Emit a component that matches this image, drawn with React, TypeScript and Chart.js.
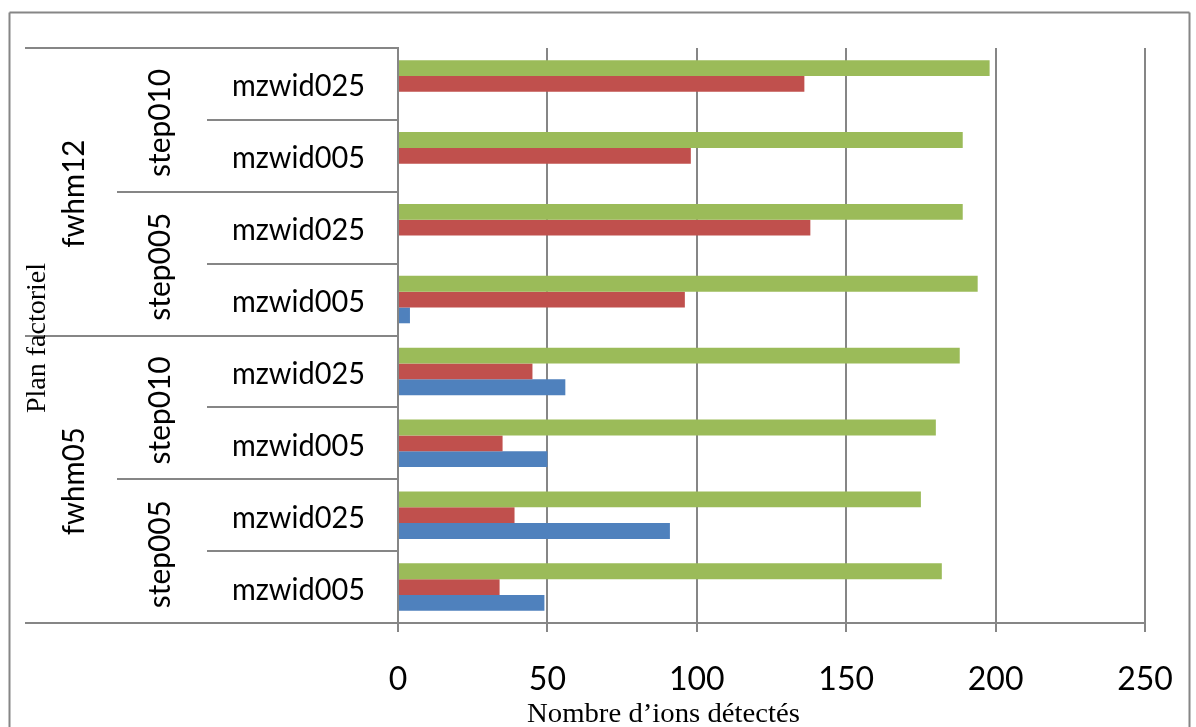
import React, { useEffect, useRef } from "react";
import { Chart, registerables } from "chart.js";

Chart.register(...registerables);

// ---- data ----
const fwhmLabels = ["fwhm12", "fwhm05"];
const stepLabels = ["step010", "step005"];
const mzwidLabels = ["mzwid025", "mzwid005"];

// categories, top to bottom
const categories: string[] = [];
fwhmLabels.forEach((f) =>
  stepLabels.forEach((s) => mzwidLabels.forEach((m) => categories.push(`${f} ${s} ${m}`)))
);

const greenValues = [198, 189, 189, 194, 188, 180, 175, 182];
const redValues = [136, 98, 138, 96, 45, 35, 39, 34];
const blueValues = [0, 0, 0, 4, 56, 50, 91, 49];

const xTicks = [0, 50, 100, 150, 200, 250];
const xAxisTitle = "Nombre d’ions détectés";
const yAxisTitle = "Plan factoriel";

const GRID = "#868686";
const SANS = "Lato, 'Open Sans', sans-serif";
const SERIF = "'Liberation Serif', 'Times New Roman', serif";

function drawFitted(
  ctx: CanvasRenderingContext2D,
  text: string,
  x: number,
  y: number,
  font: string,
  targetLen: number,
  rotate: boolean
) {
  ctx.save();
  ctx.font = font;
  ctx.fillStyle = "#000";
  ctx.textAlign = "center";
  ctx.textBaseline = "alphabetic";
  const w = ctx.measureText(text).width;
  const s = targetLen / w;
  ctx.translate(x, y);
  if (rotate) ctx.rotate(-Math.PI / 2);
  ctx.scale(s, 1);
  ctx.fillText(text, 0, 0);
  ctx.restore();
}

function line(ctx: CanvasRenderingContext2D, x1: number, y1: number, x2: number, y2: number) {
  ctx.beginPath();
  ctx.moveTo(x1, y1);
  ctx.lineTo(x2, y2);
  ctx.stroke();
}

const hierarchyPlugin = {
  id: "hierarchy",
  afterDraw(chart: any) {
    const ctx: CanvasRenderingContext2D = chart.ctx;
    const ys = chart.scales.y;
    const n = categories.length;
    const rowH = (ys.bottom - ys.top) / n;
    const top = ys.top;
    const axisX = chart.chartArea.left;
    const B = (k: number) => Math.round(top + k * rowH);

    ctx.save();
    ctx.strokeStyle = GRID;
    ctx.lineWidth = 2;
    // outer frame
    line(ctx, 9.5, 12.5, 1189.5, 12.5);
    line(ctx, 9.5, 12.5, 9.5, 727);
    line(ctx, 1189.5, 12.5, 1189.5, 727);
    // separators of the hierarchical category axis
    for (let k = 0; k <= n; k++) {
      let x0: number;
      if (k % 4 === 0) x0 = 25;
      else if (k % 2 === 0) x0 = 117;
      else x0 = 207;
      line(ctx, x0, B(k), axisX, B(k));
    }
    ctx.restore();

    // mzwid labels
    for (let i = 0; i < n; i++) {
      const cy = top + (i + 0.5) * rowH;
      drawFitted(ctx, mzwidLabels[i % 2], 298.5, cy + 12.5, `31px ${SANS}`, 133, false);
    }
    // step labels
    for (let j = 0; j < n / 2; j++) {
      const cy = top + (2 * j + 1) * rowH + 3;
      drawFitted(ctx, stepLabels[j % 2], 170, cy, `31px ${SANS}`, 108, true);
    }
    // fwhm labels
    for (let j = 0; j < n / 4; j++) {
      const cy = top + (4 * j + 2) * rowH + 2;
      drawFitted(ctx, fwhmLabels[j], 84, cy, `31px ${SANS}`, 108, true);
    }
    // axis titles
    drawFitted(ctx, yAxisTitle, 45, 338, `28px ${SERIF}`, 150, true);
    drawFitted(ctx, xAxisTitle, 663.5, 722, `28px ${SERIF}`, 273, false);
  },
};

export default function App() {
  const ref = useRef<HTMLCanvasElement | null>(null);

  useEffect(() => {
    if (!ref.current) return;
    const chart = new Chart(ref.current, {
      type: "bar",
      data: {
        labels: categories,
        datasets: [
          { label: "Série 3", data: greenValues, backgroundColor: "#9BBB59" },
          { label: "Série 2", data: redValues, backgroundColor: "#C0504D" },
          { label: "Série 1", data: blueValues, backgroundColor: "#4F81BD" },
        ],
      },
      options: {
        indexAxis: "y",
        responsive: false,
        animation: false,
        devicePixelRatio: 1,
        layout: { padding: { top: 48, right: 51, left: 0, bottom: 0 } },
        datasets: { bar: { categoryPercentage: 0.66, barPercentage: 1, borderWidth: 0 } },
        plugins: { legend: { display: false }, tooltip: { enabled: false }, title: { display: false } },
        scales: {
          y: {
            type: "category",
            ticks: { display: false },
            grid: { display: false, drawTicks: false },
            border: { display: true, color: GRID, width: 2 },
            afterFit: (s: any) => {
              s.width = 398;
            },
          },
          x: {
            type: "linear",
            min: 0,
            max: 250,
            afterBuildTicks: (s: any) => {
              s.ticks = xTicks.map((v) => ({ value: v }));
            },
            ticks: {
              color: "#000",
              font: { family: "Lato", size: 32 },
              padding: 28,
              maxRotation: 0,
            },
            grid: { color: GRID, lineWidth: 2, tickLength: 9, drawTicks: true },
            border: { display: true, color: GRID, width: 2 },
            afterFit: (s: any) => {
              s.height = 104;
              s.paddingLeft = 0;
              s.paddingRight = 0;
            },
          },
        },
      },
      plugins: [hierarchyPlugin],
    } as any);
    return () => chart.destroy();
  }, []);

  return (
    <div style={{ position: "fixed", left: 0, top: 0, width: 1196, height: 727, background: "#fff" }}>
      <canvas ref={ref} width={1196} height={727} style={{ width: 1196, height: 727, display: "block" }} />
    </div>
  );
}
